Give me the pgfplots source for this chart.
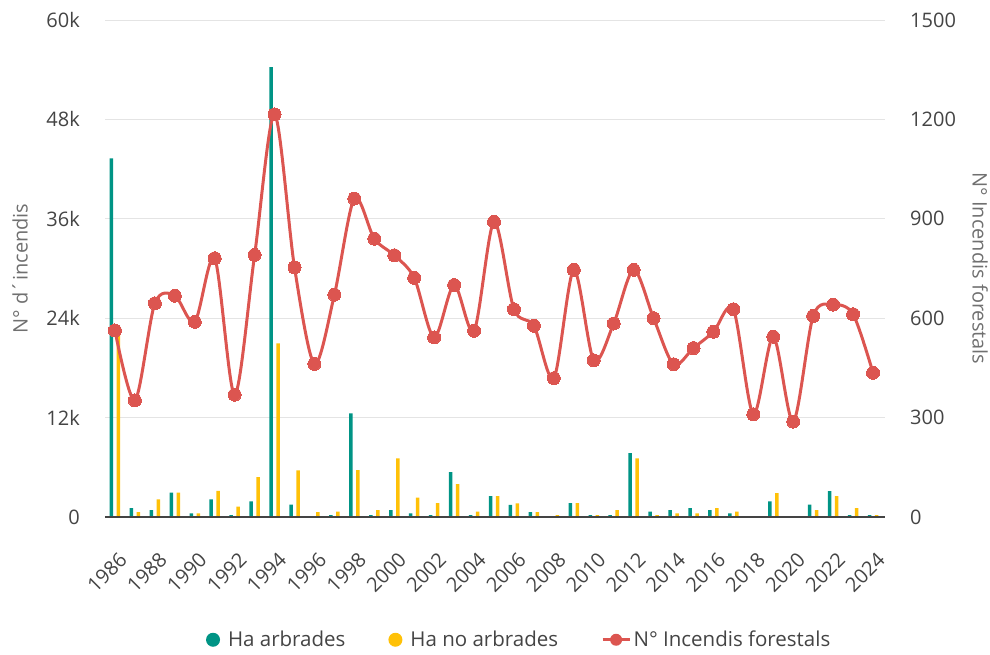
\documentclass[border=0pt]{standalone}
\usepackage{pgfplots}
\pgfplotsset{compat=1.18}
\usepackage{pgfplotstable}
\usepackage{fontspec}
\setmainfont{Open Sans}
\definecolor{cgreen}{HTML}{009485}
\definecolor{cyellow}{HTML}{FFC107}
\definecolor{cred}{HTML}{DC5550}
\definecolor{cgrid}{HTML}{E4E4E4}
\definecolor{ctick}{HTML}{444444}
\definecolor{clabel}{HTML}{707070}

\pgfplotstableread{
year green yellow fires
1986 43300 22200 563
1987 1085 600 352
1988 845 2130 645
1989 2935 2935 668
1990 440 440 589
1991 2135 3140 781
1992 240 1250 369
1993 1890 4825 791
1994 54300 20950 1215
1995 1490 5630 753
1996 0 600 462
1997 240 645 671
1998 12500 5670 961
1999 240 845 840
2000 845 7075 790
2001 440 2335 722
2002 240 1690 542
2003 5430 3980 700
2004 240 645 562
2005 2535 2535 891
2006 1450 1650 627
2007 600 600 577
2008 0 240 419
2009 1690 1690 746
2010 240 240 473
2011 240 845 584
2012 7720 7075 746
2013 645 240 600
2014 845 440 461
2015 1085 440 510
2016 845 1085 559
2017 440 645 627
2018 0 0 310
2019 1890 2895 544
2020 0 0 288
2021 1490 845 607
2022 3135 2535 641
2023 240 1085 612
2024 240 240 435
}\datatable

\pgfplotsset{
  firelegend/.style={legend image code/.code={\draw[cred, line width=3pt] (0pt,0pt) -- (27pt,0pt); \fill[cred, draw=none] (13.5pt,0pt) circle[radius=6pt]; \path[draw=none] (0pt,0pt) -- (29pt,0pt);}},
  greenlegend/.style={legend image code/.code={\fill[cgreen, draw=none] (7pt,0pt) circle[radius=7pt]; \path[draw=none] (0pt,0pt) -- (20pt,0pt);}},
  yellowlegend/.style={legend image code/.code={\fill[cyellow, draw=none] (7pt,0pt) circle[radius=7pt]; \path[draw=none] (0pt,0pt) -- (20pt,0pt);}},
}

\begin{document}
\begin{tikzpicture}
\useasboundingbox (-105pt,-137pt) rectangle (885pt,517pt);
\begin{axis}[
  at={(0pt,0pt)}, anchor=south west,
  scale only axis, width=780pt, height=497pt,
  xmin=1985.5, xmax=2024.6,
  ymin=0, ymax=60000,
  ybar=3.5pt, bar width=3.5pt,
  axis line style={draw=none},
  major tick length=0pt,
  xtick={1986,1988,...,2024},
  ytick={0,12000,24000,36000,48000,60000},
  yticklabels={0,12k,24k,36k,48k,60k},
  scaled y ticks=false,
  /pgf/number format/1000 sep={},
  /pgf/number format/assume math mode=true,
  ymajorgrids, grid style={cgrid, line width=1pt},
  tick label style={font=\fontsize{20}{24}\selectfont, text=ctick},
  yticklabel style={anchor=east, inner sep=0pt, xshift=-25pt},
  xticklabel style={rotate=45, anchor=north east, inner xsep=21.9pt, inner ysep=26.1pt},
  ylabel={N° d´incendis},
  ylabel style={at={(axis description cs:-0.109,0.5)}, anchor=center, font=\fontsize{20}{24}\selectfont, text=clabel},
]
\addplot[draw=none, fill=cgreen] table[x=year, y=green] {\datatable};
\addplot[draw=none, fill=cyellow] table[x=year, y=yellow] {\datatable};
\draw[ctick, line width=1.5pt] (rel axis cs:0,0) -- (rel axis cs:1,0);
\end{axis}
\begin{axis}[
  at={(0pt,0pt)}, anchor=south west,
  scale only axis, width=780pt, height=497pt,
  xmin=1985.5, xmax=2024.6,
  ymin=0, ymax=1500,
  axis line style={draw=none},
  axis y line*=right, axis x line=none,
  major tick length=0pt,
  ytick={0,300,...,1500},
  /pgf/number format/1000 sep={},
  /pgf/number format/assume math mode=true,
  tick label style={font=\fontsize{20}{24}\selectfont, text=ctick},
  yticklabel style={anchor=west, inner sep=0pt, xshift=25pt},
  ylabel={N° Incendis forestals},
  ylabel style={at={(axis description cs:1.122,0.5)}, anchor=center, rotate=180, font=\fontsize{20}{24}\selectfont, text=clabel},
  legend style={at={(axis description cs:0.531,-0.247)}, anchor=center, legend columns=3, draw=none, fill=none,
    font=\fontsize{20.5}{24}\selectfont, text=ctick,
    /tikz/every even column/.append style={column sep=41pt}},
  legend cell align=left,
]
\addlegendimage{greenlegend}
\addlegendentry{Ha arbrades}
\addlegendimage{yellowlegend}
\addlegendentry{Ha no arbrades}
\addplot[cred, line width=3pt, smooth, tension=0.5, mark=*, mark size=6.5pt, mark options={fill=cred, draw=cred, line width=0pt}, firelegend]
  table[x=year, y=fires] {\datatable};
\addlegendentry{N° Incendis forestals}
\end{axis}
\end{tikzpicture}
\end{document}
